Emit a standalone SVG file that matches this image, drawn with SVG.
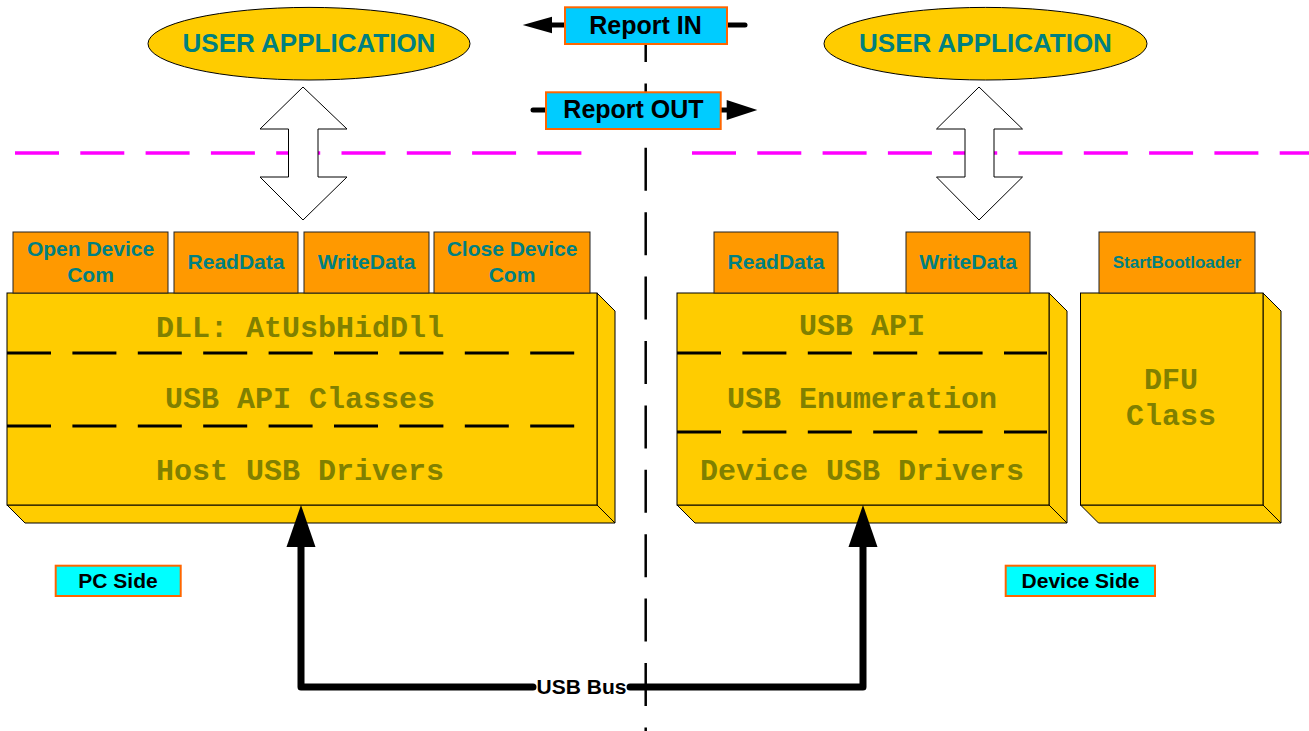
<svg xmlns="http://www.w3.org/2000/svg" width="1309" height="731" viewBox="0 0 1309 731">
<style>
.sans{font-family:"Liberation Sans",Arial,sans-serif;font-weight:bold}
.mono{font-family:"Liberation Mono","Courier New",monospace;font-weight:bold;font-size:30px;fill:#808000;text-anchor:middle}
.teal{fill:#008080;text-anchor:middle}
.blk{fill:#000;text-anchor:middle}
.box{fill:#FFCC00;stroke:#000;stroke-width:1}
.tab{fill:#FF9900;stroke:#222;stroke-width:1}
.rep{fill:#00CCFF;stroke:#FF6600;stroke-width:2}
.side{fill:#00FFFF;stroke:#FF6600;stroke-width:2}
.inner{stroke:#000;stroke-width:3;stroke-dasharray:44 21.4;fill:none}
.mag{stroke:#FF00FF;stroke-width:3.5;stroke-dasharray:44 21.3;fill:none}
.dbl{fill:#FFFFFF;stroke:#000;stroke-width:1}
.bus{stroke:#000;stroke-width:7;fill:none;stroke-linejoin:round;stroke-linecap:round}
.rarr{stroke:#000;stroke-width:5;fill:none;stroke-linecap:round}
</style>

<g id="separators">
  <line x1="645.7" y1="19" x2="645.7" y2="731" stroke="#000" stroke-width="2.5" stroke-dasharray="43 21.4"/>
  <line class="mag" x1="15" y1="153" x2="585" y2="153"/>
  <line class="mag" x1="692" y1="153" x2="1309" y2="153"/>
</g>

<g id="user-app-left">
  <ellipse cx="309" cy="43.7" rx="161" ry="36.3" class="box"/>
  <text x="309" y="52" class="sans teal" font-size="26">USER APPLICATION</text>
</g>
<g id="user-app-right">
  <ellipse cx="985.5" cy="43.7" rx="161.5" ry="36.3" class="box"/>
  <text x="985.5" y="52" class="sans teal" font-size="26">USER APPLICATION</text>
</g>

<g id="connectors">
  <polygon id="dbl-left" class="dbl" points="303,87 347,129 318,129 318,177 347,177 303,220 260,177 288.5,177 288.5,129 260,129"/>
  <polygon id="dbl-right" class="dbl" points="979,87 1022.5,129 994,129 994,177 1022.5,177 979,220 936.5,177 965,177 965,129 936.5,129"/>
  <line class="rarr" x1="550" y1="25" x2="565" y2="25"/>
  <polygon points="522.7,25 552,16.7 552,33.3" fill="#000"/>
  <line class="rarr" x1="727" y1="25" x2="745" y2="25"/>
  <line class="rarr" x1="533" y1="110" x2="546" y2="110"/>
  <line class="rarr" x1="720" y1="110" x2="729" y2="110"/>
  <polygon points="757.3,110 726.7,100 726.7,120" fill="#000"/>
</g>

<g id="report-in">
  <rect x="565" y="7.3" width="162" height="36.7" class="rep"/>
  <text x="645.5" y="34" class="sans blk" font-size="25">Report IN</text>
</g>
<g id="report-out">
  <rect x="546" y="92.3" width="174.7" height="36.7" class="rep"/>
  <text x="633.5" y="118.3" class="sans blk" font-size="25">Report OUT</text>
</g>

<g id="pc-stack">
  <polygon class="box" points="597,293 615,311 615,523 597,505"/>
  <polygon class="box" points="7,505 597,505 615,523 25,523"/>
  <rect class="box" x="7" y="293" width="590" height="212"/>
  <line class="inner" x1="7" y1="353" x2="576" y2="353"/>
  <line class="inner" x1="7" y1="426" x2="576" y2="426"/>
  <text class="mono" x="300" y="337">DLL: AtUsbHidDll</text>
  <text class="mono" x="300" y="408">USB API Classes</text>
  <text class="mono" x="300" y="480">Host USB Drivers</text>
</g>

<g id="tab-open">
  <rect class="tab" x="13" y="232" width="155" height="61"/>
  <text class="sans teal" font-size="21" x="90.5" y="256">Open Device</text>
  <text class="sans teal" font-size="21" x="90.5" y="282">Com</text>
</g>
<g id="tab-read-pc">
  <rect class="tab" x="174" y="232" width="124" height="61"/>
  <text class="sans teal" font-size="21" x="236" y="268.5">ReadData</text>
</g>
<g id="tab-write-pc">
  <rect class="tab" x="304" y="232" width="125" height="61"/>
  <text class="sans teal" font-size="21" x="366.5" y="268.5">WriteData</text>
</g>
<g id="tab-close">
  <rect class="tab" x="434" y="232" width="156" height="61"/>
  <text class="sans teal" font-size="21" x="512" y="256">Close Device</text>
  <text class="sans teal" font-size="21" x="512" y="282">Com</text>
</g>

<g id="device-stack">
  <polygon class="box" points="1049,293 1067,311 1067,523 1049,505"/>
  <polygon class="box" points="677,505 1049,505 1067,523 695,523"/>
  <rect class="box" x="677" y="293" width="372" height="212"/>
  <line class="inner" x1="677" y1="353" x2="1047" y2="353"/>
  <line class="inner" x1="677" y1="432" x2="1047" y2="432"/>
  <text class="mono" x="862" y="335">USB API</text>
  <text class="mono" x="862" y="408">USB Enumeration</text>
  <text class="mono" x="862" y="480">Device USB Drivers</text>
</g>

<g id="tab-read-dev">
  <rect class="tab" x="714" y="232" width="124" height="61"/>
  <text class="sans teal" font-size="21" x="776" y="268.5">ReadData</text>
</g>
<g id="tab-write-dev">
  <rect class="tab" x="906" y="232" width="124" height="61"/>
  <text class="sans teal" font-size="21" x="968" y="268.5">WriteData</text>
</g>

<g id="dfu-box">
  <polygon class="box" points="1263,293 1281,311 1281,523 1263,505"/>
  <polygon class="box" points="1080.5,505 1263,505 1281,523 1098.5,523"/>
  <rect class="box" x="1080.5" y="293" width="182.5" height="212"/>
  <text class="mono" x="1171" y="389">DFU</text>
  <text class="mono" x="1171" y="425">Class</text>
</g>
<g id="tab-bootloader">
  <rect class="tab" x="1099" y="232" width="156" height="61"/>
  <text class="sans teal" font-size="17" x="1177" y="268">StartBootloader</text>
</g>

<g id="pc-side">
  <rect class="side" x="55.7" y="565.7" width="125" height="30.3"/>
  <text class="sans blk" font-size="21" x="118" y="588">PC Side</text>
</g>
<g id="device-side">
  <rect class="side" x="1005.7" y="565.7" width="149.3" height="30.3"/>
  <text class="sans blk" font-size="21" x="1080.5" y="588">Device Side</text>
</g>

<g id="usb-bus">
  <path class="bus" d="M301,545 L301,687 L533,687"/>
  <path class="bus" d="M630,687 L863,687 L863,545"/>
  <polygon points="301,505 315.5,547 286.5,547" fill="#000"/>
  <polygon points="863,505 877.5,547 848.5,547" fill="#000"/>
  <text class="sans blk" font-size="21" x="581.5" y="694">USB Bus</text>
</g>
</svg>
